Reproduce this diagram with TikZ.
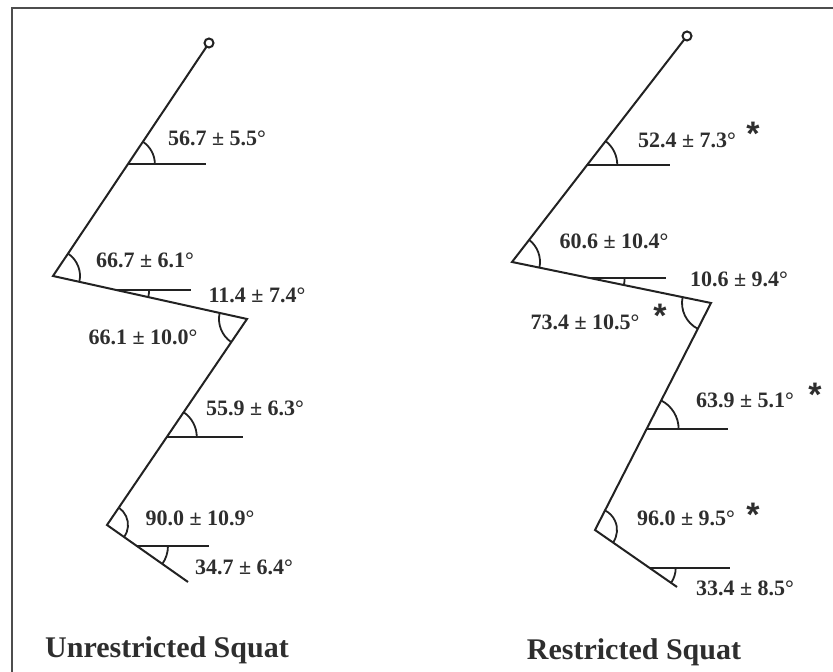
\documentclass[tikz,border=0pt]{standalone}
\usepackage{fontspec}
\setmainfont{Liberation Serif}
\newfontfamily\starfont{Liberation Sans}
\usepackage{tikz}
\usetikzlibrary{calc, positioning}
\definecolor{InkGray}{HTML}{222222}
\definecolor{TextGray}{HTML}{2E2E2E}

\tikzset{
  seg/.style={line width=1pt, InkGray},
  angarc/.style={line width=0.9pt, InkGray},
  lbl/.style={font=\fontsize{11}{13}\selectfont\bfseries, text=TextGray, inner sep=0pt},
  ttl/.style={font=\fontsize{15}{18}\selectfont\bfseries, text=TextGray, inner sep=0pt},
  sig/.style={font=\starfont\fontsize{17}{17}\selectfont\bfseries, text=TextGray, inner sep=0pt}
}

\begin{document}
\begin{tikzpicture}[x=0.5pt, y=0.5pt]
        \useasboundingbox (0,0) rectangle (833,672);
        % frame
        \draw[line width=1.1pt, InkGray!80] (12,0) -- (12,664) -- (833,664);

        % unrestricted squat
        \coordinate (topL) at (209,629);
        \coordinate (hipL) at (53,396);
        \coordinate (kneeL) at (247,353);
        \coordinate (ankleL) at (107,147);
        \coordinate (toeL) at (188,90);
        \coordinate (tL) at ($(hipL)!0.48!(topL)$);
        \coordinate (hL) at ($(hipL)!0.32!(kneeL)$);
        \coordinate (sL) at ($(ankleL)!0.427!(kneeL)$);
        \coordinate (fL) at ($(ankleL)!0.37!(toeL)$);
        \draw[seg] ($(hipL)!0.985!(topL)$) -- (hipL) -- (kneeL) -- (ankleL) -- (toeL);
        \draw[seg] (topL) circle[radius=4.5];
        \draw[seg] (tL) -- ++(78,0);
        \draw[seg] (hL) -- ++(76,0);
        \draw[seg] (sL) -- ++(76,0);
        \draw[seg] (fL) -- ++(72,0);
        \draw[angarc] (tL) ++(0:27) arc[start angle=0, end angle=56.2, radius=27];
        \draw[angarc] (hipL) ++(-12.5:27) arc[start angle=-12.5, end angle=56.2, radius=27];
        \draw[angarc] (hL) ++(-12.5:34) arc[start angle=-12.5, end angle=0, radius=34];
        \draw[angarc] (kneeL) ++(167.5:28) arc[start angle=167.5, end angle=235.8, radius=28];
        \draw[angarc] (sL) ++(0:30) arc[start angle=0, end angle=55.8, radius=30];
        \draw[angarc] (ankleL) ++(-35.1:21) arc[start angle=-35.1, end angle=55.8, radius=21];
        \draw[angarc] (fL) ++(-35.1:31) arc[start angle=-35.1, end angle=0, radius=31];
        \node[lbl] (trunkL) at (217,534) {56.7 ± 5.5°};
        \node[lbl] (hipangL) at (145,412) {66.7 ± 6.1°};
        \node[lbl] (thighL) at (257,377) {11.4 ± 7.4°};
        \node[lbl] (kneeangL) at (143,335) {66.1 ± 10.0°};
        \node[lbl] (shinL) at (255,264) {55.9 ± 6.3°};
        \node[lbl] (ankangL) at (200,154) {90.0 ± 10.9°};
        \node[lbl] (footL) at (244,105) {34.7 ± 6.4°};
        \node[ttl] (titleL) at (167,22) {Unrestricted Squat};

        % restricted squat
        \coordinate (topR) at (687,636);
        \coordinate (hipR) at (512,410);
        \coordinate (kneeR) at (711,369);
        \coordinate (ankleR) at (595,142);
        \coordinate (toeR) at (677,85);
        \coordinate (tR) at ($(hipR)!0.43!(topR)$);
        \coordinate (hR) at ($(hipR)!0.39!(kneeR)$);
        \coordinate (sR) at ($(ankleR)!0.445!(kneeR)$);
        \coordinate (fR) at ($(ankleR)!0.667!(toeR)$);
        \draw[seg] ($(hipR)!0.985!(topR)$) -- (hipR) -- (kneeR) -- (ankleR) -- (toeR);
        \draw[seg] (topR) circle[radius=4.5];
        \draw[seg] (tR) -- ++(83,0);
        \draw[seg] (hR) -- ++(76,0);
        \draw[seg] (sR) -- ++(81,0);
        \draw[seg] (fR) -- ++(80,0);
        \draw[angarc] (tR) ++(0:30) arc[start angle=0, end angle=52.2, radius=30];
        \draw[angarc] (hipR) ++(-11.6:28) arc[start angle=-11.6, end angle=52.2, radius=28];
        \draw[angarc] (hR) ++(-11.6:35) arc[start angle=-11.6, end angle=0, radius=35];
        \draw[angarc] (kneeR) ++(168.4:29) arc[start angle=168.4, end angle=242.9, radius=29];
        \draw[angarc] (sR) ++(0:32) arc[start angle=0, end angle=62.9, radius=32];
        \draw[angarc] (ankleR) ++(-34.8:22) arc[start angle=-34.8, end angle=62.9, radius=22];
        \draw[angarc] (fR) ++(-34.8:26) arc[start angle=-34.8, end angle=0, radius=26];
        \node[lbl] (trunkR) at (687,532) {52.4 ± 7.3°};
        \node[lbl] (hipangR) at (614,431) {60.6 ± 10.4°};
        \node[lbl] (thighR) at (739,393) {10.6 ± 9.4°};
        \node[lbl] (kneeangR) at (585,350) {73.4 ± 10.5°};
        \node[lbl] (shinR) at (745,272) {63.9 ± 5.1°};
        \node[lbl] (ankangR) at (686,154) {96.0 ± 9.5°};
        \node[lbl] (footR) at (745,84) {33.4 ± 8.5°};
        \node[ttl] (titleR) at (634,20) {Restricted Squat};
        % significance marks
        \node[sig] (sigT) at (753,538) {*};
        \node[sig] (sigK) at (660,356) {*};
        \node[sig] (sigS) at (815,277) {*};
        \node[sig] (sigA) at (753,157) {*};
      \end{tikzpicture}
\end{document}
